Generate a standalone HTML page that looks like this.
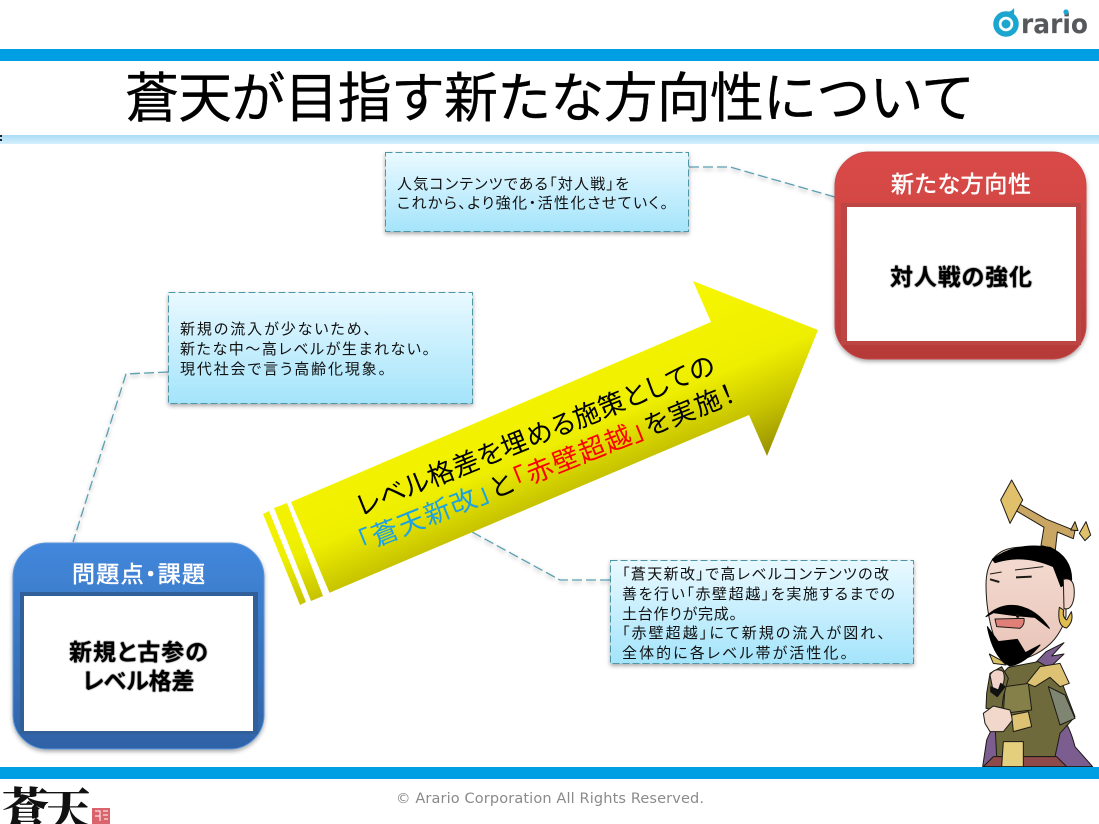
<!DOCTYPE html>
<html lang="ja"><head><meta charset="utf-8"><title>蒼天が目指す新たな方向性について</title>
<style>
html,body{margin:0;padding:0;background:#fff;width:1099px;height:824px;overflow:hidden}
svg{display:block}
text{font-family:"Liberation Sans","Noto Sans CJK JP",sans-serif;font-feature-settings:"palt"}
</style></head><body>
<svg xmlns="http://www.w3.org/2000/svg" width="1099" height="824" viewBox="0 0 1099 824">
<defs>
<linearGradient id="band" x1="0" y1="0" x2="0" y2="1"><stop offset="0" stop-color="#a9dcf6"/><stop offset="1" stop-color="#d4effc"/></linearGradient>
<linearGradient id="call" x1="0" y1="0" x2="0" y2="1"><stop offset="0" stop-color="#e9f9ff"/><stop offset="1" stop-color="#a4e4fb"/></linearGradient>
<linearGradient id="blue" x1="0" y1="0" x2="0" y2="1"><stop offset="0" stop-color="#4287dc"/><stop offset=".3" stop-color="#3d7dcb"/><stop offset="1" stop-color="#2f62a6"/></linearGradient>
<linearGradient id="red" x1="0" y1="0" x2="0" y2="1"><stop offset="0" stop-color="#d94a48"/><stop offset=".3" stop-color="#d24644"/><stop offset="1" stop-color="#b53a38"/></linearGradient>
<linearGradient id="arrow" gradientUnits="userSpaceOnUse" x1="693" y1="281" x2="768" y2="456"><stop offset="0" stop-color="#f7f700"/><stop offset=".5" stop-color="#eeee00"/><stop offset=".76" stop-color="#c6c200"/><stop offset="1" stop-color="#958f00"/></linearGradient>
<linearGradient id="skin" x1="0" y1="0" x2="0" y2="1"><stop offset="0" stop-color="#f4dcd2"/><stop offset="1" stop-color="#e9c4b8"/></linearGradient>
<filter id="sh" x="-10%" y="-10%" width="120%" height="125%"><feDropShadow dx="0" dy="2" stdDeviation="2" flood-color="#000" flood-opacity=".35"/></filter>
<filter id="glow" x="-10%" y="-20%" width="120%" height="140%"><feGaussianBlur in="SourceAlpha" stdDeviation=".7"/><feMerge><feMergeNode/><feMergeNode in="SourceGraphic"/></feMerge></filter>
</defs>

<!-- header -->
<rect x="0" y="49" width="1099" height="12" fill="#009fe3"/>
<rect x="0" y="135" width="1099" height="9" fill="url(#band)"/>
<rect x="0" y="135" width="2" height="2" fill="#222"/><rect x="0" y="139" width="2" height="2" fill="#222"/>
<text x="125" y="117" font-size="54" fill="#000" stroke="#000" stroke-width=".3" textLength="850" lengthAdjust="spacing" style="font-feature-settings:normal">蒼天が目指す新たな方向性について</text>

<!-- logo -->
<circle cx="1006" cy="24" r="10" fill="none" stroke="#1ba6d0" stroke-width="5.500"/>
<circle cx="1006" cy="24" r="4.500" fill="#1ba6d0"/>
<path d="M1008 12Q1012 11 1014 8Q1015 14 1012 18Z" fill="#1ba6d0"/>
<text x="1021" y="33" font-size="27" font-weight="700" fill="#55595c" textLength="67" lengthAdjust="spacingAndGlyphs" style="font-family:'DejaVu Sans',sans-serif">rario</text>
<circle cx="1066" cy="12" r="2.600" fill="#1ba6d0"/>

<!-- connectors -->
<g fill="none" stroke="#5b9fb0" stroke-width="1.300" stroke-dasharray="10 4" filter="url(#sh)">
<path d="M689 167H730L835 197"/>
<path d="M168 372L126 374L73 542"/>
<path d="M610 580H560L472 532"/>
</g>

<!-- callouts -->
<g fill="url(#call)" stroke="#4e97a8" stroke-width="1" stroke-dasharray="7 3" filter="url(#sh)">
<rect x="385.500" y="152.500" width="303" height="79"/>
<rect x="168.500" y="292.500" width="304" height="111"/>
<rect x="610.500" y="560.500" width="303" height="103"/>
</g>
<g font-size="15" fill="#111">
<text x="397" y="189" textLength="232">人気コンテンツである「対人戦」を</text>
<text x="397" y="208" textLength="271">これから、より強化・活性化させていく。</text>
<text x="180" y="334" textLength="191">新規の流入が少ないため、</text>
<text x="180" y="354" textLength="250">新たな中～高レベルが生まれない。</text>
<text x="180" y="374" textLength="206">現代社会で言う高齢化現象。</text>
<text x="622" y="579" textLength="267">「蒼天新改」で高レベルコンテンツの改</text>
<text x="622" y="599" textLength="273">善を行い「赤壁超越」を実施するまでの</text>
<text x="622" y="619" textLength="115">土台作りが完成。</text>
<text x="622" y="638" textLength="263">「赤壁超越」にて新規の流入が図れ、</text>
<text x="622" y="658" textLength="226">全体的に各レベル帯が活性化。</text>
</g>

<!-- panels -->
<g filter="url(#sh)">
<rect x="13" y="543" width="251" height="206" rx="34" fill="url(#blue)" stroke="#5d97dc" stroke-width="1"/>
<rect x="835" y="152" width="251" height="207" rx="34" fill="url(#red)" stroke="#c84a48" stroke-width="1"/>
</g>
<rect x="20" y="592" width="238" height="142" fill="#315f99"/>
<rect x="24" y="596" width="229" height="135" fill="#fff"/>
<rect x="841" y="203" width="240" height="142" fill="#bb4644"/>
<rect x="847" y="207" width="229" height="134" fill="#fff"/>
<g font-size="23" fill="#fff" stroke="#fff" stroke-width=".5" text-anchor="middle">
<text x="138.500" y="582" textLength="133">問題点・課題</text>
<text x="961" y="192" textLength="140">新たな方向性</text>
</g>
<g font-size="23" font-weight="700" fill="#000" text-anchor="middle" filter="url(#glow)">
<text x="138.500" y="660" textLength="139">新規と古参の</text>
<text x="138.500" y="689" textLength="112">レベル格差</text>
<text x="961" y="285" textLength="142">対人戦の強化</text>
</g>

<!-- arrow -->
<path d="M291 502L711 322L693 281L818 330L767 456L749 415L329.500 592.700Z" fill="url(#arrow)"/>
<path d="M274 508L287 503L323 596L311 601Z" fill="url(#arrow)"/>
<path d="M263 514L269 511L306 602L300 605Z" fill="url(#arrow)"/>
<g transform="translate(361 516) rotate(-22)" font-size="26.500">
<text x="0" y="0" fill="#000" textLength="384">レベル格差を埋める施策としての</text>
<text x="-12" y="34" fill="#000" textLength="404"><tspan fill="#1ba1e2">「蒼天新改」</tspan>と<tspan fill="#f00">「赤壁超越」</tspan>を実施！</text>
</g>

<!-- character -->
<g transform="translate(960 470) scale(.33333)" stroke="#1c1a14" stroke-width="3" stroke-linejoin="round">
<path d="M68 890L80 810Q95 770 125 745L300 730Q330 770 345 830L398 890Z" fill="#7c5d8f"/>
<path d="M215 590L258 545L312 518L275 558L312 552L272 590L240 620Z" fill="#7c5d8f"/>
<path d="M175 100L260 148L345 182L340 206L292 186L286 240L243 226L252 172L168 122Z" fill="#c9a663"/>
<path d="M155 30L188 90L150 160L122 90Z" fill="#e0c06a"/>
<path d="M378 155L392 195L375 212L358 190Z" fill="#e0c06a"/>
<path d="M345 155L354 182L332 180Z" fill="#c9a663"/>
<path d="M100 640L145 592L235 575L295 610L345 740L300 790L285 860L110 860L105 760Z" fill="#6f6a3c"/>
<path d="M100 860H290L320 890H70Z" fill="#8e4a4a"/>
<path d="M130 815H190V890H125Z" fill="#e4cf7f"/>
<path d="M135 650L205 640L215 720L130 730Z" fill="#858049"/>
<path d="M200 640L240 590L300 580L328 640L300 650L270 622L225 650Z" fill="#dcc272"/>
<path d="M265 650L315 675L345 745L300 765Z" fill="#7e8570"/>
<path d="M78 345Q78 240 170 232Q290 225 318 320L318 440Q290 540 180 570L120 550Q78 450 78 345Z" fill="url(#skin)"/>
<path d="M97 268Q170 215 270 232Q335 262 335 330L303 350L280 290Q190 250 105 278Z" fill="#000" stroke="#000"/>
<path d="M310 328Q348 318 342 382Q336 422 312 416Z" fill="#f0d2c8"/>
<path d="M298 412Q290 470 320 474Q342 455 334 425L320 450Q306 440 311 420Z" fill="#e2bd4f"/>
<path d="M78 440Q120 398 175 408Q232 420 268 475L225 442L160 436L100 428Z" fill="#000" stroke="#000"/>
<path d="M82 470Q100 565 150 588Q195 580 240 525L196 548L172 508L115 515Z" fill="#000" stroke="#000"/>
<path d="M105 447L192 445Q195 465 180 475L110 470Z" fill="#df7f78"/>
<path d="M90 328L118 336M168 322L215 320" fill="none" stroke-width="6"/>
<path d="M165 300L250 290M90 312L125 306" fill="none" stroke-width="3"/>
<circle cx="173" cy="438" r="4" fill="#000"/>
<path d="M88 552L125 572L138 585L100 580Z" fill="#d9c067"/>
<path d="M78 715L80 670L90 610L125 590L145 625L130 680L125 720Z" fill="#6f6a3c"/>
<path d="M90 615Q105 590 130 605Q140 640 115 660L98 655Z" fill="#f0d2c8"/>
<path d="M92 650L115 660L122 640L135 650L112 680L92 665Z" fill="#111" stroke="#111"/>
<path d="M70 730L100 708L150 720L158 750L130 785L90 785L75 760Z" fill="#f1d8cb"/>
<path d="M155 735L205 725L215 770L160 785Z" fill="#dcc272"/>
</g>
<rect x="0" y="767" width="1099" height="12" fill="#009fe3"/>

<!-- footer -->
<text x="396" y="803" font-size="14.500" fill="#8a8a8a" textLength="308" style="font-family:'DejaVu Sans',sans-serif">© Arario Corporation All Rights Reserved.</text>
<text x="2" y="827" font-size="47" font-weight="900" fill="#111" textLength="89" style="font-family:'Noto Serif CJK SC',serif">蒼天</text>
<rect x="92" y="808" width="18" height="16" fill="#d9646c"/>
<path d="M95 811H100V821M103 811H108M103 815H108M95 816H100M104 819H108" stroke="#fff" stroke-width="1" fill="none"/>
</svg>
</body></html>
